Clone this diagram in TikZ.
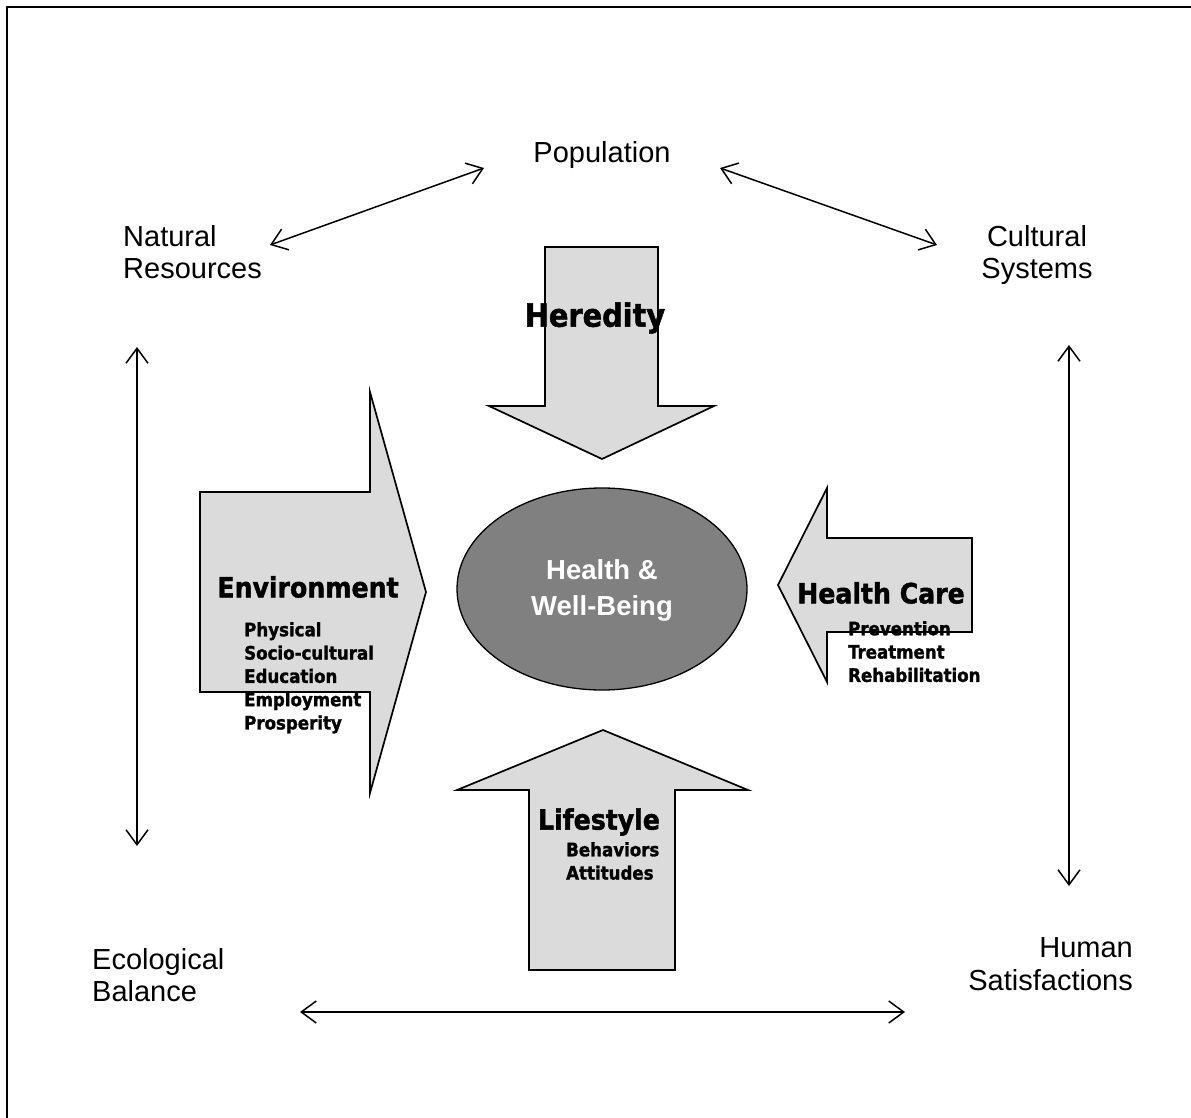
\documentclass[tikz,border=0pt]{standalone}
\usepackage{fontspec}
\setmainfont{Liberation Sans}
\newfontfamily\heavy{DejaVu Sans Condensed}[BoldFont={* Bold}, BoldFeatures={FakeBold=1.5}]
\usetikzlibrary{arrows.meta,shapes.geometric}
\begin{document}
\begin{tikzpicture}[x=1pt,y=-1pt,
  lbl/.style={font=\fontsize{29}{32.5}\selectfont, inner sep=0pt},
  dbl/.style={line width=1.5pt, {Straight Barb[length=15pt,width=22pt,line width=1.5pt]}-{Straight Barb[length=15pt,width=22pt,line width=1.5pt]}},
  bigarrow/.style={draw=black, line width=1.7pt, fill=black!14, line join=miter},
  title/.style={font=\heavy\bfseries\fontsize{28}{32}\selectfont, inner sep=0pt},
  sub/.style={font=\heavy\bfseries\fontsize{18.5}{23.3}\selectfont, inner sep=0pt, align=left}]
\useasboundingbox (0,0) rectangle (1191,1118);
% frame
\draw[line width=2.5pt] (7,1118) -- (7,7) -- (1191,7);

% outer labels
\node[lbl] (pop) at (602,155) {Population};
\node[lbl, anchor=west, align=left] (nat) at (123,252) {Natural\\Resources};
\node[lbl, align=center] (cul) at (1037,255) {Cultural\\Systems};
\node[lbl, anchor=west, align=left] (eco) at (92,975) {Ecological\\Balance};
\node[lbl, anchor=east, align=right] (hum) at (1133,964) {Human\\Satisfactions};

% connector ends
\coordinate (p1) at (484,168); \coordinate (n1) at (270,245);
\coordinate (p2) at (720,168); \coordinate (c1) at (937,245);
\coordinate (l1) at (137,347); \coordinate (l2) at (137,846);
\coordinate (r1) at (1069,345); \coordinate (r2) at (1069,886);
\coordinate (b1) at (300,1012); \coordinate (b2) at (905,1012);
\draw[dbl] (n1) -- (p1);
\draw[dbl] (p2) -- (c1);
\draw[dbl] (l1) -- (l2);
\draw[dbl] (r1) -- (r2);
\draw[dbl] (b1) -- (b2);

% Heredity (down)
\draw[bigarrow] (545,247) -- (658,247) -- (658,406) -- (714,406) -- (602,459) -- (489,406) -- (545,406) -- cycle;
% Environment (right)
\draw[bigarrow] (200,492) -- (370,492) -- (370,392) -- (426,592) -- (370,793) -- (370,692) -- (200,692) -- cycle;
% Health care (left)
\draw[bigarrow] (972,538) -- (827,538) -- (827,488) -- (778,585) -- (827,682) -- (827,632) -- (972,632) -- cycle;
% Lifestyle (up)
\draw[bigarrow] (529,970) -- (529,790) -- (457,790) -- (603,730) -- (748,790) -- (675,790) -- (675,970) -- cycle;

% centre
\node[draw=black, line width=1.3pt, fill=black!50, ellipse, minimum width=290pt, minimum height=202pt, inner sep=0pt] (hw) at (602,589) {};
\node[font=\bfseries\fontsize{27.5}{36}\selectfont, text=white, align=center, inner sep=0pt] (hwt) at (602,590) {Health \&\\Well-Being};

% arrow labels
\node[title, font=\heavy\bfseries\fontsize{32}{36}\selectfont] (her) at (595,318) {Heredity};
\node[title] (env) at (308,587) {Environment};
\node[sub, anchor=north west] (envs) at (244,622) {Physical\\Socio-cultural\\Education\\Employment\\Prosperity};
\node[title] (hc) at (881,593) {Health Care};
\node[sub, anchor=north west] (hcs) at (848,621) {Prevention\\Treatment\\Rehabilitation};
\node[title] (life) at (599,822) {Lifestyle};
\node[sub, anchor=north west] (lifes) at (566,842) {Behaviors\\Attitudes};
\end{tikzpicture}
\end{document}
